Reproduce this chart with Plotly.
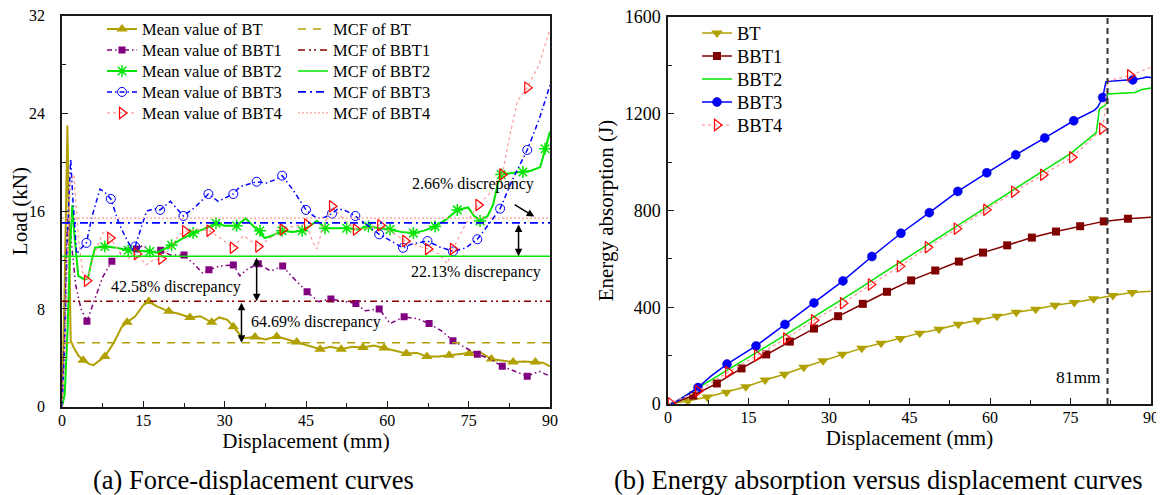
import plotly.graph_objects as go

FONT = "Liberation Serif"

# ---------------- (a) Force-displacement: mean curves ----------------
bt_x = [0, 0.5, 1.0, 1.3, 1.6, 2.2, 3.0, 3.9, 5.0, 5.8, 7.0, 7.9, 9.5, 11.0, 12.0, 13.5, 15.0, 16.0, 17.5,
        19.7, 21.5, 23.6, 25.5, 27.6, 29.0, 30.5, 31.6, 33.3, 35.6, 37.5, 39.6, 41.5, 43.3, 45.5, 47.6, 49.5,
        51.5, 53.5, 55.5, 57.5, 59.4, 61.5, 63.5, 65.5, 67.3, 69.5, 71.4, 73.2, 75.1, 77.0, 79.2, 81.2, 83.2,
        85.2, 87.3, 88.7, 90]
bt_y = [0, 10, 23.0, 15, 5.4, 4.8, 4.2, 3.8, 3.5, 3.4, 3.8, 4.1, 5.2, 6.5, 6.9, 7.4, 8.3, 8.6, 8.2,
        7.8, 7.6, 7.3, 7.4, 6.9, 7.3, 7.1, 6.55, 5.6, 5.7, 5.5, 5.75, 5.5, 5.3, 5.0, 4.7, 4.9,
        4.7, 4.9, 4.85, 5.0, 4.8, 4.6, 4.35, 4.4, 4.1, 4.1, 4.2, 4.3, 4.35, 4.5, 3.9, 3.8, 3.65,
        3.7, 3.65, 3.6, 3.3]
bt_mx = [3.9, 7.9, 12.0, 16.0, 19.7, 23.6, 27.6, 31.6, 35.6, 39.6, 43.3, 47.6, 51.5, 55.5, 59.4, 63.5,
         67.3, 71.4, 75.1, 79.2, 83.2, 87.3]
bt_my = [3.8, 4.1, 6.9, 8.6, 7.8, 7.3, 6.9, 6.55, 5.7, 5.75, 5.3, 4.7, 4.7, 4.85, 4.8, 4.35,
         4.1, 4.2, 4.35, 3.9, 3.65, 3.65]

bbt1_x = [0, 0.5, 1.0, 1.5, 2.5, 3.5, 4.6, 6.0, 7.5, 9.2, 10.5, 12.0, 13.7, 15.0, 16.5, 18.2, 20.0, 22.5,
          24.5, 26.0, 27.1, 29.0, 31.6, 32.8, 34.0, 36.2, 38.5, 40.7, 42.5, 45.2, 47.3, 49.6, 52.0, 54.2,
          55.9, 58.5, 60.5, 63.1, 65.5, 67.7, 70.0, 72.1, 74.5, 76.6, 79.0, 81.2, 83.5, 85.8, 88.0, 90]
bbt1_y = [0, 6, 15.4, 14.5, 10, 8, 7.0, 8.8, 10.6, 11.9, 12.4, 13.1, 12.9, 13.2, 12.6, 12.8, 12.4, 12.4,
          11.6, 10.9, 11.2, 11.5, 11.6, 10.7, 11.2, 11.7, 11.1, 11.5, 10.6, 9.4, 8.6, 8.8, 8.6, 8.45,
          7.85, 8.0, 6.8, 7.35, 7.2, 6.8, 6.2, 5.4, 4.8, 4.3, 3.9, 3.3, 2.9, 2.5, 2.9, 2.5]
bbt1_mx = [4.6, 9.2, 13.7, 18.2, 22.5, 27.1, 31.6, 36.2, 40.7, 45.2, 49.6, 54.2, 58.5, 63.1, 67.7, 72.1,
           76.6, 81.2, 85.8]
bbt1_my = [7.0, 11.9, 12.9, 12.8, 12.4, 11.2, 11.6, 11.7, 11.5, 9.4, 8.8, 8.45, 8.0, 7.35, 6.8, 5.4,
           4.3, 3.3, 2.5]

bbt2_x = [0, 0.5, 1.0, 1.5, 1.9, 2.3, 3.0, 4.2, 4.8, 5.4, 6.1, 7.9, 10.0, 12.2, 14.0, 16.2, 17.5, 20.2,
          22.0, 24.2, 26.0, 28.4, 30.0, 32.2, 33.9, 35.5, 37.4, 38.8, 40.6, 42.5, 44.3, 45.8, 47.0, 48.5,
          50.5, 52.5, 54.5, 56.5, 58.5, 60.5, 62.5, 64.8, 66.8, 68.8, 70.8, 72.9, 74.9, 76.0, 77.1, 78.5,
          79.5, 80.4, 81.0, 83.0, 85.0, 86.5, 88.2, 89.1, 90]
bbt2_y = [0, 1, 6, 13, 16.5, 14, 10.7, 10.4, 10.5, 11.8, 13.0, 13.1, 13.0, 12.8, 12.75, 12.7, 12.6, 13.2,
          13.7, 14.2, 14.5, 15.0, 14.8, 14.8, 15.4, 14.7, 13.8, 14.0, 14.4, 14.3, 14.4, 14.8, 15.2, 14.6,
          14.6, 14.6, 14.5, 14.75, 14.6, 14.5, 14.3, 14.2, 14.4, 14.75, 15.3, 16.1, 16.3, 15.6, 15.2, 15.6,
          16.5, 18.3, 19.0, 19.1, 19.2, 19.3, 19.6, 21.1, 22.5]
bbt2_mx = [7.9, 12.2, 16.2, 20.2, 24.2, 28.4, 32.2, 36.5, 40.6, 44.3, 48.5, 52.5, 56.5, 60.5, 64.8, 68.8,
           72.9, 77.1, 81.0, 85.0, 89.1]
bbt2_my = [13.1, 12.8, 12.7, 13.2, 14.2, 15.0, 14.8, 14.4, 14.4, 14.4, 14.6, 14.6, 14.75, 14.5, 14.2, 14.75,
           16.1, 15.2, 19.0, 19.2, 21.1]

bbt3_x = [0, 0.5, 1.0, 1.6, 2.0, 2.7, 3.4, 4.5, 5.5, 7.0, 8.0, 9.0, 10.5, 12.0, 13.0, 13.5, 14.5, 15.6,
          17.0, 18.1, 20.0, 21.0, 22.4, 24.5, 27.0, 28.8, 30.5, 31.6, 32.8, 34.5, 35.9, 37.7, 39.5, 40.6,
          42.5, 45.0, 47.0, 48.5, 49.8, 50.9, 52.5, 54.1, 56.8, 58.5, 60.5, 62.9, 64.5, 67.4, 69.5, 72.1,
          74.5, 76.6, 78.5, 80.8, 83.0, 85.8, 88.0, 90]
bbt3_y = [0, 5, 14, 20.3, 17, 12.5, 12.9, 13.4, 15.5, 17.8, 17.5, 17.0, 15.0, 13.6, 12.9, 13.1, 14.5, 16.0,
          16.2, 16.1, 16.8, 16.3, 15.6, 16.3, 17.4, 16.8, 17.2, 17.4, 18.0, 18.2, 18.4, 18.3, 18.6, 18.9,
          17.8, 16.1, 15.4, 15.5, 15.8, 16.2, 16.0, 15.6, 14.65, 14.1, 13.6, 13.0, 13.3, 13.55, 13.1, 12.7,
          13.0, 13.7, 14.8, 16.2, 18.5, 21.0, 23.5, 26.3]
bbt3_mx = [4.5, 9.0, 13.5, 18.1, 22.4, 27.0, 31.6, 35.9, 40.6, 45.0, 49.8, 54.1, 58.5, 62.9, 67.4, 72.1,
           76.6, 80.8, 85.8]
bbt3_my = [13.4, 17.0, 13.1, 16.1, 15.6, 17.4, 17.4, 18.4, 18.9, 16.1, 15.8, 15.6, 14.1, 13.0, 13.55, 12.7,
           13.7, 16.2, 21.0]

bbt4_x = [0, 0.5, 1.0, 1.5, 2.2, 3.0, 3.8, 4.6, 6.0, 7.5, 8.2, 8.9, 10.5, 12.0, 13.8, 15.5, 16.8, 18.3,
          20.0, 21.5, 22.7, 25.0, 27.2, 29.5, 31.5, 33.5, 36.2, 38.5, 40.7, 43.0, 45.2, 46.2, 47.0, 48.0,
          49.8, 52.0, 54.2, 56.5, 58.7, 61.0, 63.3, 65.5, 67.5, 69.5, 71.0, 72.1, 74.5, 76.8, 79.0, 81.2,
          82.5, 84.0, 85.8, 88.0, 90]
bbt4_y = [0, 4, 12, 18.3, 19.0, 14, 11.0, 10.3, 12.5, 14.2, 14.4, 13.8, 12.7, 12.1, 12.5, 11.6, 12.0, 12.1,
          13.0, 14.0, 14.35, 14.5, 14.4, 13.7, 13.0, 14.0, 13.1, 13.8, 14.5, 14.8, 14.9, 13.5, 12.9, 14.5,
          16.4, 15.3, 14.5, 14.6, 14.85, 14.2, 13.55, 13.2, 12.9, 12.5, 11.7, 12.9, 15.0, 16.5, 17.5, 19.0,
          22.0, 25.0, 26.1, 28.0, 30.9]
bbt4_mx = [4.6, 8.9, 13.8, 18.3, 22.7, 27.2, 31.5, 36.2, 40.7, 45.2, 49.8, 54.2, 58.7, 63.3, 67.5, 72.1,
           76.8, 81.2, 85.8]
bbt4_my = [10.3, 13.8, 12.5, 12.1, 14.35, 14.4, 13.0, 13.1, 14.5, 14.9, 16.4, 14.5, 14.85, 13.55, 12.9, 12.9,
           16.5, 19.0, 26.1]

# mean crushing force (MCF) levels, kN
mcf_x = [0, 90]
mcf_bt = 5.24
mcf_bbt1 = 8.63
mcf_bbt2 = 12.31
mcf_bbt3 = 15.03
mcf_bbt4 = 15.43

# ---------------- (b) Energy absorption ----------------
ebt_x = [0, 1.0, 3.7, 7.3, 10.9, 14.5, 18.1, 21.7, 25.3, 28.9, 32.5, 36.1, 39.7, 43.3, 46.9, 50.5, 54.1,
         57.7, 61.3, 64.9, 68.5, 72.1, 75.7, 79.3, 82.9, 86.5, 90]
ebt_y = [0, 3, 12, 29, 49, 71, 99, 123, 152, 179, 206, 231, 251, 271, 293, 309, 330,
         346, 363, 379, 392, 408, 420, 435, 449, 461, 466]
ebt_mx = ebt_x[2:-1]
ebt_my = ebt_y[2:-1]

ebbt1_x = [0, 1.0, 4.7, 9.1, 13.7, 18.3, 22.7, 27.2, 31.7, 36.3, 40.8, 45.3, 49.8, 54.2, 58.7, 63.2, 67.8,
           72.3, 76.8, 81.2, 85.7, 90]
ebbt1_y = [0, 3, 35, 85, 147, 205, 258, 312, 363, 414, 464, 511, 552, 589, 626, 656, 688,
           713, 735, 755, 766, 772]
ebbt1_mx = ebbt1_x[2:-1]
ebbt1_my = ebbt1_y[2:-1]

ebbt2_x = [0, 1.0, 5, 10, 15, 20, 25, 30, 35, 40, 45, 50, 55, 60, 65, 70, 75, 79.8, 80.1, 80.4, 81.3,
           81.7, 81.9, 87.0, 88.3, 90]
ebbt2_y = [0, 4, 58, 125, 193, 260, 330, 398, 468, 540, 610, 682, 752, 823, 895, 966, 1035, 1122, 1170,
           1220, 1232, 1242, 1282, 1288, 1300, 1306]

ebbt3_x = [0, 1.0, 3.0, 5.6, 8.0, 11.0, 13.5, 16.4, 21.8, 27.2, 32.6, 38.0, 43.4, 48.7, 54.0, 59.4, 64.8,
           70.2, 75.6, 79.5, 80.1, 81.0, 81.3, 81.6, 85.5, 86.6, 88.5, 89.2, 90]
ebbt3_y = [0, 4, 30, 68, 115, 165, 200, 240, 329, 418, 509, 610, 706, 791, 879, 956, 1030,
           1100, 1171, 1215, 1229, 1267, 1300, 1333, 1340, 1340, 1348, 1352, 1350]
ebbt3_mx = [5.6, 11.0, 16.4, 21.8, 27.2, 32.6, 38.0, 43.4, 48.7, 54.0, 59.4, 64.8, 70.2, 75.6, 81.0, 86.6]
ebbt3_my = [68, 165, 240, 329, 418, 509, 610, 706, 791, 879, 956, 1030, 1100, 1171, 1267, 1340]

ebbt4_x = [0, 0.5, 5.6, 11.2, 16.6, 22.0, 27.2, 32.6, 37.8, 43.2, 48.4, 53.8, 59.3, 64.5, 69.9, 75.3,
           80.9, 81.4, 81.8, 86.1, 90]
ebbt4_y = [0, 3, 54, 132, 201, 271, 346, 417, 494, 569, 648, 725, 803, 878, 948, 1020,
           1138, 1200, 1335, 1359, 1392]
ebbt4_mx = [0.5, 5.6, 11.2, 16.6, 22.0, 27.2, 32.6, 37.8, 43.2, 48.4, 53.8, 59.3, 64.5, 69.9, 75.3, 80.9, 86.1]
ebbt4_my = [3, 54, 132, 201, 271, 346, 417, 494, 569, 648, 725, 803, 878, 948, 1020, 1138, 1359]

vline_x = 81.9  # "81mm" reference line
vline_label = "81mm"

# ---------------- colours ----------------
C_BT = "#B0A000"
C_PUR = "#800080"
C_GRN = "#00E600"
C_BLU = "#0000FF"
C_RED = "#FF0000"
C_PINK = "#FF9A9A"
C_DRED = "#8B0000"
C_MAROON = "#800000"

# The page body has an 8 px default margin; size the figure so it fills the 1164x495 window.
OFF = 8
W, H = 1164 - OFF, 495 - OFF


def px_x(p):
    return (p - OFF) / W


def px_y(p):
    return (H - (p - OFF)) / H


fig = go.Figure()
legends = {}
legend_count = [0]


def new_legend(x_px, row_px, size, offset):
    legend_count[0] += 1
    key = "legend" if legend_count[0] == 1 else "legend%d" % legend_count[0]
    legends[key] = dict(x=px_x(x_px), y=px_y(row_px - offset), xanchor="left", yanchor="top",
                        bgcolor="rgba(0,0,0,0)", font=dict(family=FONT, size=size, color="black"),
                        tracegroupgap=0, itemwidth=30)
    return key


LEFT_ROWS = [30, 51, 72, 93, 114]
RIGHT_ROWS = [32, 55, 78, 101, 124]
LFS, RFS = 16.5, 18.5


def add_series(name, lx, ly, mx, my, lcolor, lwidth, dash, symbol, msize, mcolor, mlcolor, mlw,
               xa, ya, legend):
    fig.add_trace(go.Scatter(x=lx, y=ly, mode="lines", xaxis=xa, yaxis=ya, showlegend=False,
                             line=dict(color=lcolor, width=lwidth, dash=dash), hoverinfo="skip"))
    if mx is not None:
        fig.add_trace(go.Scatter(x=mx, y=my, mode="markers", xaxis=xa, yaxis=ya, showlegend=False,
                                 marker=dict(symbol=symbol, size=msize, color=mcolor,
                                             line=dict(color=mlcolor, width=mlw)), hoverinfo="skip"))
        mode = "lines+markers"
    else:
        mode = "lines"
    fig.add_trace(go.Scatter(x=[None], y=[None], mode=mode, name=name, xaxis=xa, yaxis=ya,
                             legend=legend, line=dict(color=lcolor, width=lwidth, dash=dash),
                             marker=dict(symbol=symbol, size=msize, color=mcolor,
                                         line=dict(color=mlcolor, width=mlw))))


DASHDOT2 = "5px,3px,1.5px,3px,1.5px,3px"
DASHDOT = "5px,3px,1.5px,3px"

# left chart: mean curves
left_series = [
    ("Mean value of BT", bt_x, bt_y, bt_mx, bt_my, C_BT, 2, "solid", "triangle-up", 10, C_BT, C_BT, 0),
    ("Mean value of BBT1", bbt1_x, bbt1_y, bbt1_mx, bbt1_my, C_PUR, 1.5, DASHDOT2, "square", 7, C_PUR, C_PUR, 0),
    ("Mean value of BBT2", bbt2_x, bbt2_y, bbt2_mx, bbt2_my, C_GRN, 2, "solid", "asterisk-open", 10,
     C_GRN, C_GRN, 1.5),
    ("Mean value of BBT3", bbt3_x, bbt3_y, bbt3_mx, bbt3_my, C_BLU, 1.5, DASHDOT, "circle-open", 9,
     C_BLU, C_BLU, 1),
    ("Mean value of BBT4", bbt4_x, bbt4_y, bbt4_mx, bbt4_my, C_PINK, 1.2, "dot", "triangle-right-open", 10,
     C_RED, C_RED, 1.2),
]
for row, s in zip(LEFT_ROWS, left_series):
    add_series(*s, "x", "y", new_legend(102, row, LFS, 18.3))

# left chart: MCF levels
mcf_series = [("MCF of BT", mcf_bt, C_BT, 1.5, "8px,7px"),
              ("MCF of BBT1", mcf_bbt1, C_DRED, 1.5, "7px,4px,2px,3px,2px,4px"),
              ("MCF of BBT2", mcf_bbt2, C_GRN, 1.5, "solid"),
              ("MCF of BBT3", mcf_bbt3, C_BLU, 1.8, "8px,4px,2px,4px"),
              ("MCF of BBT4", mcf_bbt4, C_PINK, 1.3, "2px,2px")]
for row, (name, val, col, w, dsh) in zip(LEFT_ROWS, mcf_series):
    fig.add_trace(go.Scatter(x=mcf_x, y=[val] * len(mcf_x), mode="lines", name=name, xaxis="x", yaxis="y",
                             legend=new_legend(293, row, LFS, 18.3), line=dict(color=col, width=w, dash=dsh)))

# right chart: energy
right_series = [
    ("BT", ebt_x, ebt_y, ebt_mx, ebt_my, C_BT, 1.5, "solid", "triangle-down", 10, C_BT, C_BT, 0),
    ("BBT1", ebbt1_x, ebbt1_y, ebbt1_mx, ebbt1_my, C_MAROON, 1.5, "solid", "square", 8, C_MAROON, C_MAROON, 0),
    ("BBT2", ebbt2_x, ebbt2_y, None, None, C_GRN, 1.5, "solid", "circle", 1, C_GRN, C_GRN, 0),
    ("BBT3", ebbt3_x, ebbt3_y, ebbt3_mx, ebbt3_my, C_BLU, 1.5, "solid", "circle", 9, C_BLU, "#0000B0", 0.5),
    ("BBT4", ebbt4_x, ebbt4_y, ebbt4_mx, ebbt4_my, C_PINK, 1.3, "dot", "triangle-right-open", 10,
     C_RED, C_RED, 1.2),
]
for row, s in zip(RIGHT_ROWS, right_series):
    add_series(*s, "x2", "y2", new_legend(697, row, RFS, 17.5))


def axis(domain, rng, dtick, minor, title, tsize, tfont, standoff, lstand, anchor):
    return dict(domain=domain, range=rng, tick0=0, dtick=dtick, anchor=anchor, automargin=False,
                showgrid=False, zeroline=False, showline=True, linecolor="#1a1a1a", linewidth=1.5,
                mirror=True, ticks="inside", ticklen=6, tickwidth=1.2, tickcolor="#1a1a1a",
                ticklabelstandoff=lstand, ticklabeloverflow="allow",
                tickfont=dict(family=FONT, size=tsize, color="black"),
                minor=dict(dtick=minor, ticks="inside", ticklen=4, tickwidth=1.2, tickcolor="#1a1a1a"),
                title=dict(text=title, standoff=standoff, font=dict(family=FONT, size=tfont, color="black")))


fig.update_layout(
    width=W, height=H, margin=dict(l=0, r=0, t=0, b=0, autoexpand=False),
    paper_bgcolor="white", plot_bgcolor="white",
    font=dict(family=FONT, color="black"),
    xaxis=axis([px_x(62), px_x(550)], [0, 90], 15, 7.5, "Displacement (mm)", 16, 21, 3, -2, "y"),
    yaxis=axis([px_y(406.7), px_y(15.5)], [0, 32], 8, 4, "Load (kN)", 16, 21, 4, 12, "x"),
    xaxis2=axis([px_x(668), px_x(1151)], [0, 90], 15, 7.5, "Displacement (mm)", 16, 21, 3, -2, "y2"),
    yaxis2=axis([px_y(404), px_y(17)], [0, 1600], 400, 200, "Energy absorption (J)", 18, 21, 5, 2, "x2"),
    **legends,
)

# vertical reference line in (b)
fig.add_shape(type="line", xref="x2", yref="y2", x0=vline_x, x1=vline_x, y0=0, y1=1600,
              line=dict(color="#333333", width=2, dash="6px,4px"))

ann_font = dict(family=FONT, size=16, color="black")
arrow = dict(xref="x", yref="y", axref="x", ayref="y", showarrow=True, arrowhead=2, arrowsize=1,
             arrowwidth=1.5, arrowcolor="black", text="")
dbl = dict(arrow, startarrowhead=2, startarrowsize=1, arrowside="end+start")
annotations = [
    dict(text="2.66% discrepancy", x=75.8, y=18.2, xref="x", yref="y", showarrow=False, font=ann_font),
    dict(text="22.13% discrepancy", x=76.4, y=11.0, xref="x", yref="y", showarrow=False, font=ann_font),
    dict(text="42.58% discrepancy", x=21.0, y=9.76, xref="x", yref="y", showarrow=False, font=ann_font),
    dict(text="64.69% discrepancy", x=46.8, y=6.9, xref="x", yref="y", showarrow=False, font=ann_font),
    dict(arrow, x=87.1, y=15.55, ax=83.2, ay=16.6),
    dict(dbl, x=84.2, y=mcf_bbt2, ax=84.2, ay=mcf_bbt3),
    dict(dbl, x=35.9, y=mcf_bbt1, ax=35.9, ay=mcf_bbt2),
    dict(dbl, x=33.1, y=mcf_bt, ax=33.1, ay=mcf_bbt1),
    dict(text=vline_label, x=81.0, y=113, xref="x2", yref="y2", xanchor="right", showarrow=False,
         font=dict(family=FONT, size=17.5, color="black")),
    dict(text="(a) Force-displacement curves", x=px_x(253), y=px_y(480), xref="paper", yref="paper",
         xanchor="center", yanchor="middle", showarrow=False, font=dict(family=FONT, size=26.5, color="black")),
    dict(text="(b) Energy absorption versus displacement curves", x=px_x(878), y=px_y(480),
         xref="paper", yref="paper", xanchor="center", yanchor="middle", showarrow=False,
         font=dict(family=FONT, size=26.5, color="black")),
]
fig.update_layout(annotations=annotations)

fig.write_html("out.html")
